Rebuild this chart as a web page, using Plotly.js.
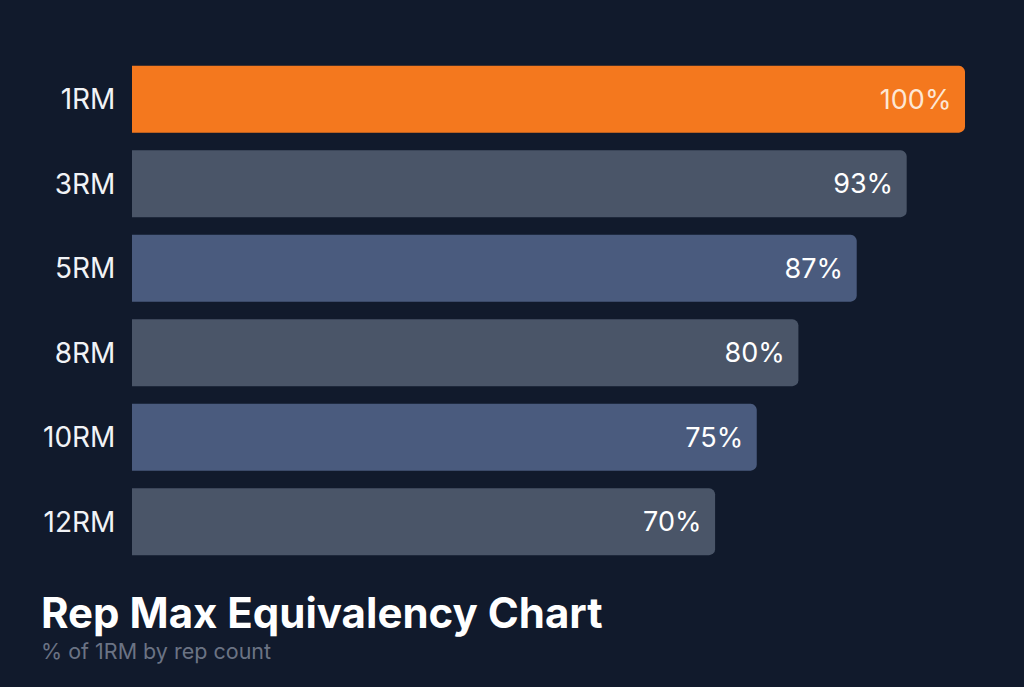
<!DOCTYPE html>
<html>
<head>
<meta charset="utf-8">
<script src="https://cdn.plot.ly/plotly-3.0.1.min.js"></script>
<style>
  html, body { margin: 0; padding: 0; background: #111a2c; }
  #chart { width: 1024px; height: 687px; }
</style>
</head>
<body>
<div id="chart"></div>
<script>
// rep max categories and % of 1RM
var repLabels = ['1RM', '3RM', '5RM', '8RM', '10RM', '12RM'];
var pctOf1RM = [100, 93, 87, 80, 75, 70];

var barColors = ['#f4781e', '#4a5568', '#4a5b7e', '#4a5568', '#4a5b7e', '#4a5568'];
var textColors = ['#fde7d4', '#ffffff', '#ffffff', '#ffffff', '#ffffff', '#ffffff'];

var trace = {
    type: 'bar',
    orientation: 'h',
    y: repLabels,
    x: pctOf1RM,
    marker: { color: barColors, cornerradius: 6, line: { width: 0 } },
    texttemplate: '%{x}%\u00a0',
    textposition: 'inside',
    insidetextanchor: 'end',
    textfont: { family: 'Inter, sans-serif', size: 27, color: textColors },
    hoverinfo: 'none'
};

var layout = {
    width: 1024,
    height: 687,
    paper_bgcolor: '#111a2c',
    plot_bgcolor: '#111a2c',
    margin: { l: 132, r: 59, t: 57, b: 123 },
    bargap: 0.21,
    showlegend: false,
    font: { family: 'Inter, sans-serif', color: '#ffffff' },
    xaxis: {
        range: [0, 100],
        visible: false,
        fixedrange: true
    },
    yaxis: {
        autorange: 'reversed',
        showgrid: false,
        zeroline: false,
        showline: false,
        ticks: 'outside',
        ticklen: 10,
        tickcolor: 'rgba(0,0,0,0)',
        tickfont: { family: 'Inter, sans-serif', size: 28, color: '#f1f3f6' },
        fixedrange: true
    },
    annotations: [
        {
            text: '<b>Rep Max Equivalency Chart</b>',
            xref: 'paper', yref: 'paper',
            x: -0.112, y: -0.095,
            xanchor: 'left', yanchor: 'middle',
            showarrow: false,
            font: { family: 'Inter, sans-serif', size: 42, color: '#ffffff' }
        },
        {
            text: '% of 1RM by rep count',
            xref: 'paper', yref: 'paper',
            x: -0.112, y: -0.172,
            xanchor: 'left', yanchor: 'middle',
            showarrow: false,
            font: { family: 'Inter, sans-serif', size: 21.5, color: '#6b7384' }
        }
    ]
};

Plotly.newPlot('chart', [trace], layout, { displayModeBar: false, staticPlot: true });
</script>
</body>
</html>
